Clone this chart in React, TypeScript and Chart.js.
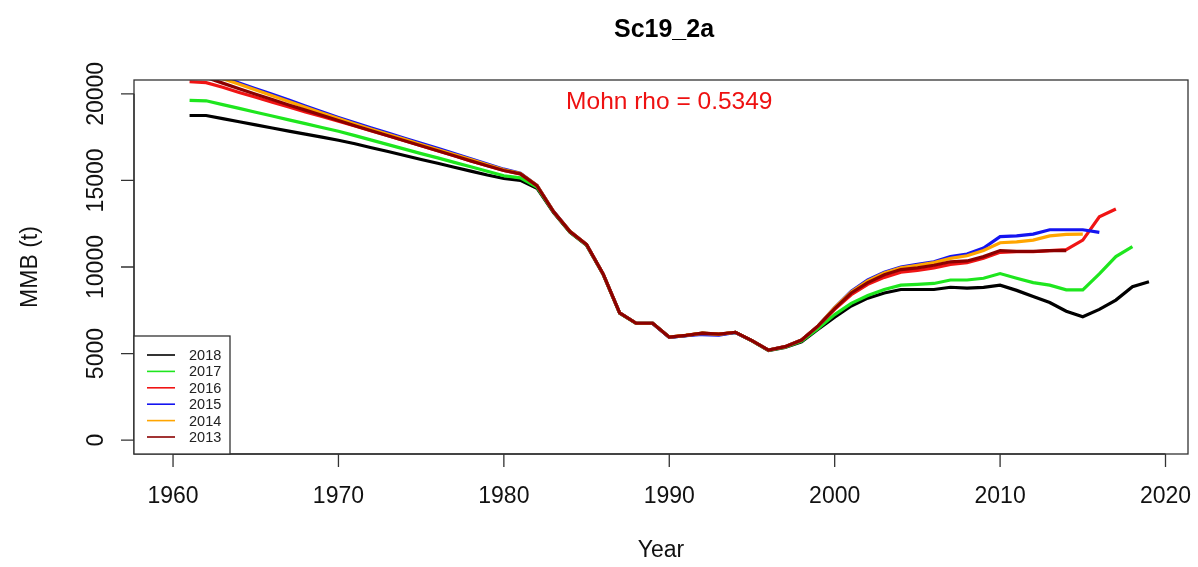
import React, { useEffect, useRef } from "react";
import { Chart, registerables } from "chart.js";

Chart.register(...registerables);

const chartTitle = "Sc19_2a";
const xAxisTitle = "Year";
const yAxisTitle = "MMB (t)";
const mohnText = "Mohn rho = 0.5349";

const years = [
  1961, 1962, 1963, 1964, 1965, 1966, 1967, 1968, 1969, 1970,
  1971, 1972, 1973, 1974, 1975, 1976, 1977, 1978, 1979, 1980,
  1981, 1982, 1983, 1984, 1985, 1986, 1987, 1988, 1989, 1990,
  1991, 1992, 1993, 1994, 1995, 1996, 1997, 1998, 1999, 2000,
  2001, 2002, 2003, 2004, 2005, 2006, 2007, 2008, 2009, 2010,
  2011, 2012, 2013, 2014, 2015, 2016, 2017, 2018, 2019,
];

const mmb2018 = [
  18750, 18750, 18570, 18390, 18210, 18030, 17850, 17670, 17500, 17320,
  17120, 16890, 16670, 16440, 16210, 15990, 15760, 15540, 15310, 15110,
  15000, 14550, 13150, 12000, 11250, 9580, 7330, 6740, 6740, 5940,
  6040, 6170, 6110, 6220, 5730, 5180, 5350, 5680, 6400, 7100,
  7750, 8200, 8500, 8700, 8700, 8700, 8830, 8780, 8820, 8950,
  8650, 8300, 7950, 7450, 7130, 7550, 8090, 8860, 9150,
];

const mmb2017 = [
  19620, 19600, 19380, 19160, 18940, 18720, 18500, 18280, 18060, 17840,
  17590, 17330, 17070, 16810, 16550, 16300, 16040, 15790, 15530, 15270,
  15150, 14620, 13170, 12020, 11270, 9590, 7340, 6745, 6745, 5945,
  6045, 6175, 6115, 6225, 5740, 5190, 5370, 5720, 6450, 7250,
  7900, 8350, 8700, 8950, 9000, 9050, 9250, 9250, 9350, 9620,
  9350, 9100, 8950, 8680, 8680, 9600, 10600, 11180,
];

const mmb2016 = [
  20700, 20650, 20380, 20080, 19800, 19520, 19240, 18960, 18690, 18420,
  18140, 17860, 17580, 17290, 17000, 16710, 16420, 16130, 15850, 15570,
  15380, 14700, 13200, 12050, 11300, 9600, 7350, 6750, 6750, 5950,
  6050, 6180, 6120, 6230, 5750, 5200, 5400, 5780, 6600, 7550,
  8400, 9000, 9400, 9700, 9800, 9950, 10150, 10250, 10500, 10850,
  10880, 10880, 10950, 11000, 11550, 12900, 13350,
];

const mmb2015 = [
  21600, 21300, 20970, 20630, 20300, 19970, 19640, 19300, 18970, 18640,
  18330, 18030, 17740, 17440, 17140, 16850, 16550, 16250, 15950, 15650,
  15420, 14720, 13220, 12060, 11300, 9600, 7350, 6750, 6740, 5940,
  6030, 6100, 6060, 6220, 5750, 5200, 5400, 5790, 6600, 7650,
  8600, 9250, 9700, 10000, 10150, 10300, 10600, 10750, 11100, 11750,
  11800, 11900, 12150, 12150, 12150, 12000,
];

const mmb2014 = [
  21500, 21200, 20880, 20550, 20220, 19890, 19560, 19230, 18900, 18570,
  18260, 17960, 17670, 17370, 17070, 16780, 16490, 16200, 15900, 15620,
  15400, 14710, 13210, 12060, 11300, 9600, 7350, 6750, 6750, 5950,
  6050, 6170, 6110, 6230, 5750, 5200, 5400, 5790, 6600, 7650,
  8550, 9200, 9650, 9950, 10100, 10250, 10500, 10650, 10950, 11400,
  11450, 11550, 11800, 11880, 11900,
];

const mmb2013 = [
  21250, 20950, 20620, 20300, 19980, 19670, 19360, 19060, 18760, 18460,
  18160, 17870, 17580, 17290, 17000, 16710, 16420, 16130, 15850, 15570,
  15380, 14700, 13200, 12050, 11300, 9600, 7350, 6750, 6750, 5950,
  6050, 6180, 6120, 6230, 5750, 5200, 5400, 5780, 6600, 7600,
  8500, 9100, 9550, 9850, 9950, 10100, 10300, 10350, 10600, 10950,
  10900, 10900, 10950, 10950,
];

const seriesLabels = ["2018", "2017", "2016", "2015", "2014", "2013"];
const seriesValues = [mmb2018, mmb2017, mmb2016, mmb2015, mmb2014, mmb2013];
const seriesColors = ["#000000", "#1ee61e", "#f01414", "#1414f0", "#ffa500", "#8b0000"];

const xTicks = [1960, 1970, 1980, 1990, 2000, 2010, 2020];
const yTicks = [0, 5000, 10000, 15000, 20000];

const X_MIN = 1957.64;
const X_MAX = 2021.36;
const Y_MIN = -800;
const Y_MAX = 20800;
const MOHN_X = 1990;
const MOHN_Y = 19500;

const FONT = "'Liberation Sans', Arial, Helvetica, sans-serif";

const rPlotPlugin = {
  id: "rPlot",
  afterDraw(chart: any) {
    const ctx = chart.ctx as CanvasRenderingContext2D;
    const { left, right, top, bottom } = chart.chartArea;
    const xs = chart.scales.x;
    const ys = chart.scales.y;
    ctx.save();

    // plot box
    ctx.strokeStyle = "#333333";
    ctx.lineWidth = 1.3;
    ctx.strokeRect(left, top, right - left, bottom - top);

    // x axis
    ctx.fillStyle = "#111111";
    ctx.font = `23px ${FONT}`;
    ctx.textAlign = "center";
    ctx.textBaseline = "middle";
    const x0 = xs.getPixelForValue(xTicks[0]);
    const x1 = xs.getPixelForValue(xTicks[xTicks.length - 1]);
    ctx.beginPath();
    ctx.moveTo(x0, bottom);
    ctx.lineTo(x1, bottom);
    for (const v of xTicks) {
      const px = xs.getPixelForValue(v);
      ctx.moveTo(px, bottom);
      ctx.lineTo(px, bottom + 13);
    }
    ctx.stroke();
    for (const v of xTicks) {
      const px = xs.getPixelForValue(v);
      ctx.fillText(String(v), px, bottom + 43);
    }

    // y axis
    ctx.beginPath();
    const y0 = ys.getPixelForValue(yTicks[0]);
    const y1 = ys.getPixelForValue(yTicks[yTicks.length - 1]);
    ctx.moveTo(left, y0);
    ctx.lineTo(left, y1);
    for (const v of yTicks) {
      const py = ys.getPixelForValue(v);
      ctx.moveTo(left, py);
      ctx.lineTo(left - 13, py);
    }
    ctx.stroke();
    for (const v of yTicks) {
      const py = ys.getPixelForValue(v);
      ctx.save();
      ctx.translate(left - 37, py);
      ctx.rotate(-Math.PI / 2);
      ctx.fillText(String(v), 0, 0);
      ctx.restore();
    }

    // axis titles
    ctx.fillText(xAxisTitle, (left + right) / 2, 551);
    ctx.save();
    ctx.translate(31, (top + bottom) / 2);
    ctx.rotate(-Math.PI / 2);
    ctx.fillText(yAxisTitle, 0, 0);
    ctx.restore();

    // main title
    ctx.font = `bold 25px ${FONT}`;
    ctx.fillStyle = "#000000";
    ctx.fillText(chartTitle, (left + right) / 2 + 3, 30);

    // Mohn rho annotation
    ctx.font = `24.5px ${FONT}`;
    ctx.fillStyle = "#ee1111";
    ctx.fillText(mohnText, xs.getPixelForValue(MOHN_X), ys.getPixelForValue(MOHN_Y));

    // legend
    const lw = 96;
    const lh = 118;
    const lx = left;
    const ly = bottom - lh;
    ctx.fillStyle = "#ffffff";
    ctx.fillRect(lx, ly, lw, lh);
    ctx.strokeStyle = "#333333";
    ctx.lineWidth = 1.3;
    ctx.strokeRect(lx, ly, lw, lh);
    ctx.font = `14.5px ${FONT}`;
    ctx.textAlign = "left";
    seriesLabels.forEach((lab, i) => {
      const yy = ly + 19 + i * 16.4;
      ctx.strokeStyle = seriesColors[i];
      ctx.lineWidth = 1.6;
      ctx.beginPath();
      ctx.moveTo(lx + 13, yy);
      ctx.lineTo(lx + 41, yy);
      ctx.stroke();
      ctx.fillStyle = "#222222";
      ctx.fillText(lab, lx + 55, yy + 1);
    });

    ctx.restore();
  },
};

export default function App() {
  const canvasRef = useRef<HTMLCanvasElement | null>(null);

  useEffect(() => {
    if (!canvasRef.current) return;
    const datasets = seriesValues.map((vals, i) => ({
      label: seriesLabels[i],
      data: vals.map((v, j) => ({ x: years[j], y: v })),
      borderColor: seriesColors[i],
      backgroundColor: seriesColors[i],
      borderWidth: 3.2,
      pointRadius: 0,
      tension: 0,
      fill: false,
      order: seriesLabels.length - i,
    }));
    const chart = new Chart(canvasRef.current, {
      type: "line",
      data: { datasets },
      options: {
        responsive: false,
        animation: false,
        parsing: false as any,
        layout: { padding: { left: 134, right: 10, top: 80, bottom: 113 } },
        scales: {
          x: { type: "linear", min: X_MIN, max: X_MAX, display: false },
          y: { type: "linear", min: Y_MIN, max: Y_MAX, display: false },
        },
        plugins: {
          legend: { display: false },
          tooltip: { enabled: false },
          title: { display: false },
        },
      },
      plugins: [rPlotPlugin],
    });
    return () => chart.destroy();
  }, []);

  return (
    <div style={{ position: "fixed", left: 0, top: 0, width: 1198, height: 567, background: "#ffffff" }}>
      <canvas ref={canvasRef} width={1198} height={567} style={{ display: "block" }} />
    </div>
  );
}
